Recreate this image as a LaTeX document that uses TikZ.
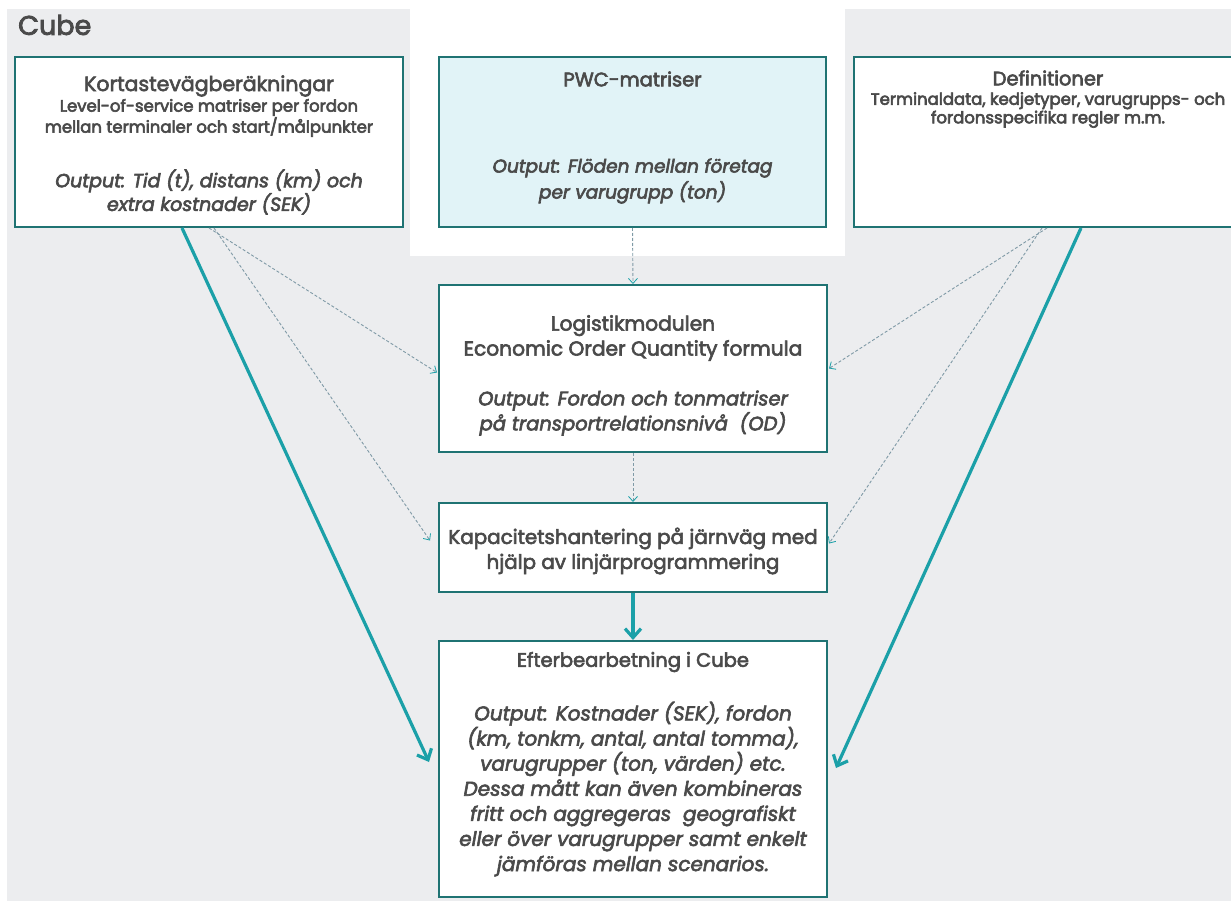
\documentclass[tikz,border=0pt]{standalone}
\usepackage{fontspec}
\setmainfont{Poppins}
\newcommand\heavyink{\special{pdf:literal direct 2 Tr 0.6 w}}
\usetikzlibrary{arrows.meta,calc}
\definecolor{bgc}{HTML}{ECEDEF}
\definecolor{bord}{HTML}{1F7373}
\definecolor{arrteal}{HTML}{1BA0A8}
\definecolor{dashc}{HTML}{7F9AA6}
\definecolor{txt}{HTML}{4A4A4A}
\definecolor{pwcfill}{HTML}{E1F3F7}
\tikzset{
  box/.style={draw=bord, line width=2pt, fill=white, inner sep=0pt},
  ttl/.style={text=txt, font=\fontsize{19.5}{25}\selectfont\heavyink, align=center, inner sep=0pt},
  sub/.style={text=txt, font=\fontsize{16.5}{21}\selectfont\heavyink, align=center, inner sep=0pt},
  outp/.style={text=txt, font=\fontsize{19}{20}\selectfont\itshape\heavyink, align=center, inner sep=0pt},
  flow/.style={draw=arrteal, line width=3.2pt, -{Straight Barb[length=9pt,width=16pt,line width=3.2pt]}},
  dflow/.style={draw=dashc, line width=0.9pt, dash pattern=on 3pt off 2pt, -{Straight Barb[length=5pt,width=9pt,line width=0.8pt,color=arrteal]}}
}
\begin{document}
\begin{tikzpicture}[x=1pt,y=-1pt]
\useasboundingbox (0,0) rectangle (1231,901);
\begin{scope}
\clip (0,0) rectangle (1231,901);
\fill[bgc] (7,9) rectangle (1231,901);
\fill[white] (410,0) rectangle (845,256);

% boxes
\node[box, minimum width=388pt, minimum height=170pt] (k) at (209,142) {};
\node[box, fill=pwcfill, minimum width=387pt, minimum height=170pt] (p) at (632.5,142) {};
\node[box, minimum width=388pt, minimum height=170pt] (d) at (1048,142) {};
\node[box, minimum width=388pt, minimum height=167pt] (l) at (633,368.5) {};
\node[box, minimum width=388pt, minimum height=89pt] (c) at (633,547.5) {};
\node[box, minimum width=388pt, minimum height=256pt] (e) at (633,769) {};

% title
\node[anchor=west, text=txt, font=\fontsize{27}{30}\selectfont\special{pdf:literal direct 2 Tr 0.8 w}, inner sep=0pt] (cube) at (18,25) {Cube};

% texts
\node[ttl, font=\fontsize{20.5}{25}\selectfont\heavyink] (kt) at (209,86) {Kortastevägberäkningar};
\node[sub] (ks) at (209,118) {Level-of-service matriser per fordon\\mellan terminaler och start/målpunkter};
\node[outp] (ko) at (209,192) {Output: Tid (t), distans (km) och\\extra kostnader (SEK)};

\node[ttl] (pt) at (632.5,79) {PWC-matriser};
\node[outp, font=\fontsize{18.5}{26}\selectfont\itshape\heavyink] (po) at (632.5,181) {Output: Flöden mellan företag\\per varugrupp (ton)};

\node[ttl] (dt) at (1048,78) {Definitioner};
\node[sub, font=\fontsize{16.5}{18.5}\selectfont\heavyink] (ds) at (1048,110) {Terminaldata, kedjetyper, varugrupps- och\\fordonsspecifika regler m.m.};

\node[ttl, font=\fontsize{20.2}{25}\selectfont\heavyink] (lt) at (633,338) {Logistikmodulen\\Economic Order Quantity formula};
\node[outp, font=\fontsize{19.5}{25}\selectfont\itshape\heavyink] (lo) at (633,413) {Output: Fordon och tonmatriser\\på transportrelationsnivå\ \ (OD)};

\node[ttl, font=\fontsize{19.9}{25}\selectfont\heavyink] (ct) at (633,551) {Kapacitetshantering på järnväg med\\hjälp av linjärprogrammering};

\node[ttl] (et) at (633,662) {Efterbearbetning i Cube};
\node[outp, font=\fontsize{20}{25.1}\selectfont\itshape\heavyink] (eo) at (633,789) {Output: Kostnader (SEK), fordon\\(km, tonkm, antal, antal tomma),\\varugrupper (ton, värden) etc.\\Dessa mått kan även kombineras\\fritt och aggregeras\ \ geografiskt\\eller över varugrupper samt enkelt\\jämföras mellan scenarios.};

% connectors
\coordinate (kA) at ($(k.south west)+(168,0)$);
\coordinate (kB) at ($(k.south west)+(195,0)$);
\coordinate (kC) at ($(k.south west)+(200,0)$);
\coordinate (dA) at ($(d.south west)+(228,0)$);
\coordinate (dB) at ($(d.south west)+(194,0)$);
\coordinate (dC) at ($(d.south west)+(189,0)$);
\coordinate (eL) at (429,762);
\coordinate (eR) at (836,768);

\draw[flow] (kA) -- (eL);
\draw[flow] (dA) -- (eR);
\draw[flow] (c.south) -- (e.north);

\draw[dflow] (kB) -- ($(l.west)+(-1,4)$);
\draw[dflow] (kC) -- ($(c.west)+(-8,-7)$);
\draw[dflow] (dB) -- ($(l.east)+(1,0)$);
\draw[dflow] (dC) -- ($(c.east)+(1,-4)$);
\draw[dflow] (p.south) -- (l.north);
\draw[dflow] (l.south) -- (c.north);
\end{scope}
\end{tikzpicture}
\end{document}
